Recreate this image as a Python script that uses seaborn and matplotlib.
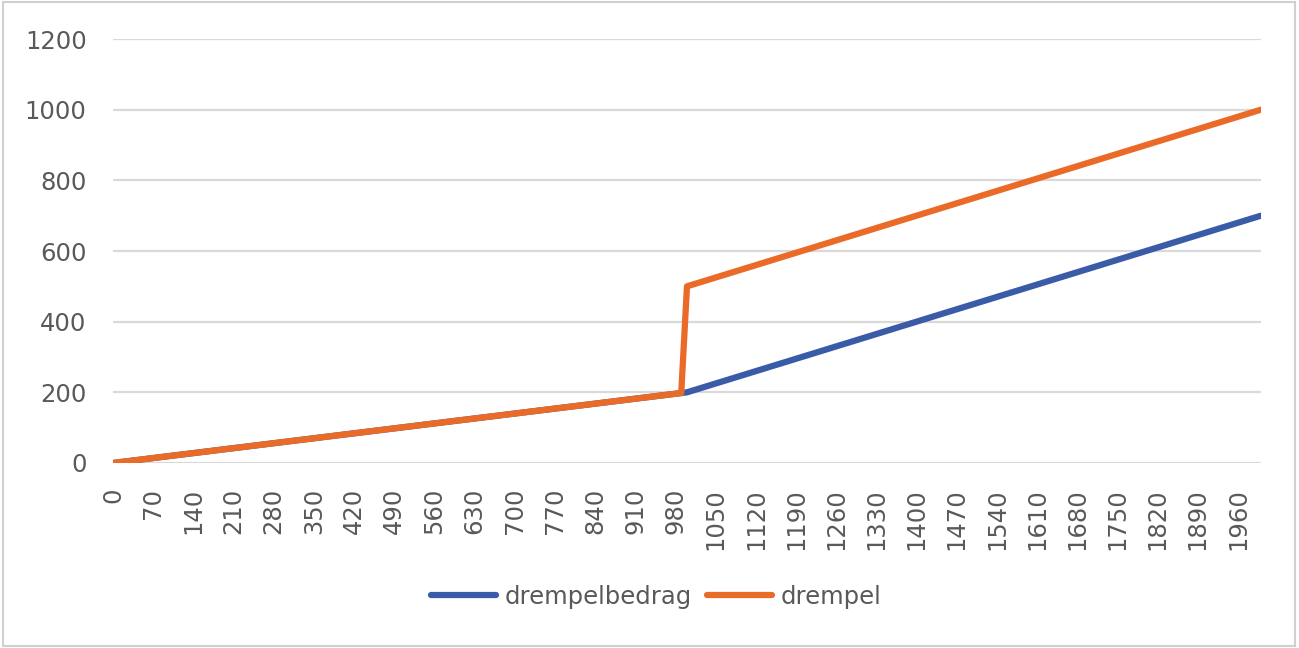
import pandas as pd
import matplotlib.pyplot as plt
import seaborn as sns
from matplotlib.patches import Rectangle

# categories on the x axis (income steps of 10)
bedrag = list(range(0, 2010, 10))

# drempelbedrag series
drempelbedrag = [
    0, 2, 4, 6, 8, 10, 12, 14, 16, 18,
    20, 22, 24, 26, 28, 30, 32, 34, 36, 38,
    40, 42, 44, 46, 48, 50, 52, 54, 56, 58,
    60, 62, 64, 66, 68, 70, 72, 74, 76, 78,
    80, 82, 84, 86, 88, 90, 92, 94, 96, 98,
    100, 102, 104, 106, 108, 110, 112, 114, 116, 118,
    120, 122, 124, 126, 128, 130, 132, 134, 136, 138,
    140, 142, 144, 146, 148, 150, 152, 154, 156, 158,
    160, 162, 164, 166, 168, 170, 172, 174, 176, 178,
    180, 182, 184, 186, 188, 190, 192, 194, 196, 198,
    200, 205, 210, 215, 220, 225, 230, 235, 240, 245,
    250, 255, 260, 265, 270, 275, 280, 285, 290, 295,
    300, 305, 310, 315, 320, 325, 330, 335, 340, 345,
    350, 355, 360, 365, 370, 375, 380, 385, 390, 395,
    400, 405, 410, 415, 420, 425, 430, 435, 440, 445,
    450, 455, 460, 465, 470, 475, 480, 485, 490, 495,
    500, 505, 510, 515, 520, 525, 530, 535, 540, 545,
    550, 555, 560, 565, 570, 575, 580, 585, 590, 595,
    600, 605, 610, 615, 620, 625, 630, 635, 640, 645,
    650, 655, 660, 665, 670, 675, 680, 685, 690, 695,
    700,
]

# drempel series
drempel = [
    0, 2, 4, 6, 8, 10, 12, 14, 16, 18,
    20, 22, 24, 26, 28, 30, 32, 34, 36, 38,
    40, 42, 44, 46, 48, 50, 52, 54, 56, 58,
    60, 62, 64, 66, 68, 70, 72, 74, 76, 78,
    80, 82, 84, 86, 88, 90, 92, 94, 96, 98,
    100, 102, 104, 106, 108, 110, 112, 114, 116, 118,
    120, 122, 124, 126, 128, 130, 132, 134, 136, 138,
    140, 142, 144, 146, 148, 150, 152, 154, 156, 158,
    160, 162, 164, 166, 168, 170, 172, 174, 176, 178,
    180, 182, 184, 186, 188, 190, 192, 194, 196, 198,
    500, 505, 510, 515, 520, 525, 530, 535, 540, 545,
    550, 555, 560, 565, 570, 575, 580, 585, 590, 595,
    600, 605, 610, 615, 620, 625, 630, 635, 640, 645,
    650, 655, 660, 665, 670, 675, 680, 685, 690, 695,
    700, 705, 710, 715, 720, 725, 730, 735, 740, 745,
    750, 755, 760, 765, 770, 775, 780, 785, 790, 795,
    800, 805, 810, 815, 820, 825, 830, 835, 840, 845,
    850, 855, 860, 865, 870, 875, 880, 885, 890, 895,
    900, 905, 910, 915, 920, 925, 930, 935, 940, 945,
    950, 955, 960, 965, 970, 975, 980, 985, 990, 995,
    1000,
]

y_ticks = [0, 200, 400, 600, 800, 1000, 1200]

# Build long-form table for seaborn
df = pd.DataFrame({'bedrag': bedrag, 'drempelbedrag': drempelbedrag, 'drempel': drempel})
long = df.melt(id_vars='bedrag', var_name='reeks', value_name='waarde')

sns.set_theme(style='white')
plt.rcParams['font.family'] = ['DejaVu Sans']
text_color = '#595959'
fs = 17.5

fig = plt.figure(figsize=(12.99, 6.48), dpi=100)
ax = fig.add_axes([0.087, 0.2855, 0.8837, 0.6543])

sns.lineplot(data=long, x='bedrag', y='waarde', hue='reeks',
             palette={'drempelbedrag': '#3A5BA8', 'drempel': '#EA6A27'},
             linewidth=4.5, ax=ax, legend=False, sort=False)
for line in ax.lines:
    line.set_solid_capstyle('round')
    line.set_solid_joinstyle('round')

ax.set_xlim(bedrag[0], bedrag[-1])
ax.set_ylim(y_ticks[0], y_ticks[-1])
ax.set_yticks(y_ticks)
ax.set_xticks(bedrag[::7])
ax.set_xticklabels([str(v) for v in bedrag[::7]], rotation=90)
ax.set_xlabel('')
ax.set_ylabel('')

ax.grid(axis='y', color='#D9D9D9', linewidth=1.6)
ax.set_axisbelow(True)
for s in ax.spines.values():
    s.set_visible(False)
ax.tick_params(axis='y', length=0, pad=19, labelsize=fs, labelcolor=text_color)
ax.tick_params(axis='x', length=0, pad=18, labelsize=fs, labelcolor=text_color)

# legend at the bottom
handles = [plt.Line2D([], [], color='#3A5BA8', linewidth=4.5, solid_capstyle='round'),
           plt.Line2D([], [], color='#EA6A27', linewidth=4.5, solid_capstyle='round')]
leg = fig.legend(handles, ['drempelbedrag', 'drempel'], loc='center', bbox_to_anchor=(0.505, 0.079),
                 ncol=2, frameon=False, fontsize=fs, handlelength=2.7, handletextpad=0.35,
                 columnspacing=0.6)
for t in leg.get_texts():
    t.set_color(text_color)

# chart border
fig.patches.append(Rectangle((0.002, 0.003), 0.995, 0.994, transform=fig.transFigure,
                             fill=False, edgecolor='#D0D0D0', linewidth=1.5))

fig.savefig('out.png', dpi=100)
